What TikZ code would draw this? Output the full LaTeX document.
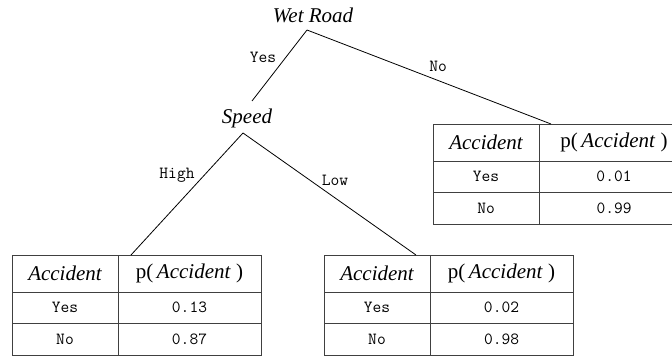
\documentclass[tikz,border=0pt]{standalone}
\usepackage{fontspec}
\setmainfont{Liberation Serif}
\usetikzlibrary{positioning}

\begin{document}
\begin{tikzpicture}[x = 1pt, y = 1pt,
  var/.style = {font = \fontsize{21}{24}\selectfont\itshape, inner sep = 0pt},
  branch/.style = {font = \fontsize{17}{19}\selectfont\ttfamily, inner sep = 0pt},
  cell/.style = {draw = black!75, line width = 0.9pt, inner sep = 0pt, outer sep = 0pt, minimum height = 31.5pt},
  headcell/.style = {cell, minimum height = 37pt, font = \fontsize{21}{24}\selectfont},
  valcell/.style = {cell, font = \fontsize{17}{19}\selectfont\ttfamily},
  colA/.style = {minimum width = 106pt},
  colB/.style = {minimum width = 143pt},
  edge/.style = {black, line width = 0.8pt}]

\useasboundingbox (0, 0) rectangle (672, 356);

% decision variables
\node (wet) at (313, 341) [var]{Wet Road};
\node (speed) at (247, 238) [var]{Speed};
\coordinate (wetroot) at (307, 326);
\coordinate (speedtop) at (252, 255);
\coordinate (speedroot) at (243, 223);

% table for Wet Road = No
\node (rt-h1) at (486, 213.5) [headcell, colA]{\itshape Accident};
\node (rt-h2) [headcell, colB, minimum width = 150pt, right = 0pt of rt-h1]{p(\,\textit{Accident} )};
\node (rt-y1) [valcell, colA, below = 0pt of rt-h1]{Yes};
\node (rt-y2) [valcell, colB, minimum width = 150pt, below = 0pt of rt-h2]{0.01};
\node (rt-n1) [valcell, colA, below = 0pt of rt-y1]{No};
\node (rt-n2) [valcell, colB, minimum width = 150pt, below = 0pt of rt-y2]{0.99};

% table for Speed = High
\node (lt-h1) at (65, 82.5) [headcell, colA]{\itshape Accident};
\node (lt-h2) [headcell, colB, right = 0pt of lt-h1]{p(\,\textit{Accident} )};
\node (lt-y1) [valcell, colA, below = 0pt of lt-h1]{Yes};
\node (lt-y2) [valcell, colB, below = 0pt of lt-h2]{0.13};
\node (lt-n1) [valcell, colA, below = 0pt of lt-y1]{No};
\node (lt-n2) [valcell, colB, below = 0pt of lt-y2]{0.87};

% table for Speed = Low
\node (mt-h1) at (377, 82.5) [headcell, colA]{\itshape Accident};
\node (mt-h2) [headcell, colB, right = 0pt of mt-h1]{p(\,\textit{Accident} )};
\node (mt-y1) [valcell, colA, below = 0pt of mt-h1]{Yes};
\node (mt-y2) [valcell, colB, below = 0pt of mt-h2]{0.02};
\node (mt-n1) [valcell, colA, below = 0pt of mt-y1]{No};
\node (mt-n2) [valcell, colB, below = 0pt of mt-y2]{0.98};

\coordinate (notop) at ([xshift = 12pt]rt-h2.north west);
\coordinate (hightop) at ([xshift = 13pt]lt-h2.north west);
\coordinate (lowtop) at ([xshift = -14pt]mt-h1.north east);

% branches
\draw[edge] (wetroot) -- (speedtop);
\draw[edge] (wetroot) -- (notop);
\draw[edge] (speedroot) -- (hightop);
\draw[edge] (speedroot) -- (lowtop);

\node (yes) at (263, 299) [branch]{Yes};
\node (no) at (438, 290) [branch]{No};
\node (high) at (177, 181) [branch]{High};
\node (low) at (335, 176) [branch]{Low};

\end{tikzpicture}
\end{document}
